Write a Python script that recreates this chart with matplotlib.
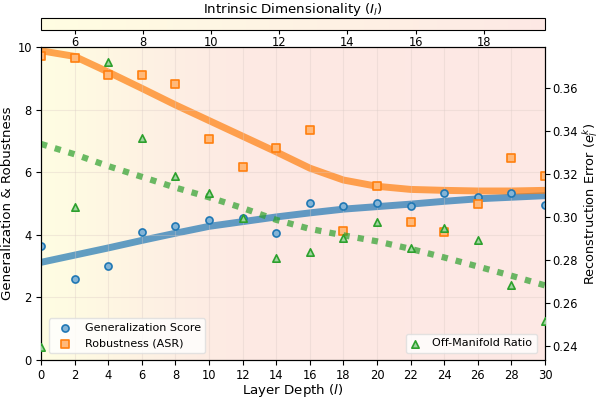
import numpy as np
import matplotlib
matplotlib.use("Agg")
import matplotlib.pyplot as plt
from matplotlib.colors import LinearSegmentedColormap, Normalize
from matplotlib.cm import ScalarMappable

# ---------------- data ----------------
layers = [0, 2, 4, 6, 8, 10, 12, 14, 16, 18, 20, 22, 24, 26, 28, 30]

gen_score = [3.65, 2.60, 3.00, 4.09, 4.28, 4.48, 4.54, 4.07, 5.01, 4.92, 5.03, 4.92, 5.33, 5.20, 5.33, 4.96]
robustness = [9.71, 9.66, 9.12, 9.12, 8.82, 7.05, 6.17, 6.76, 7.35, 4.12, 5.56, 4.41, 4.09, 4.98, 6.45, 5.88]
off_manifold = [0.2394, 0.3045, 0.3720, 0.3368, 0.3189, 0.3110, 0.2994, 0.2808, 0.2836, 0.2900,
                0.2975, 0.2854, 0.2947, 0.2892, 0.2682, 0.2514]

gen_trend = [3.12, 3.35, 3.58, 3.82, 4.05, 4.27, 4.42, 4.57, 4.70, 4.82, 4.90, 4.98, 5.07, 5.15, 5.20, 5.25]
rob_trend = [9.88, 9.70, 9.20, 8.68, 8.15, 7.65, 7.15, 6.65, 6.13, 5.75, 5.55, 5.45, 5.42, 5.40, 5.40, 5.42]
off_trend = [0.3338, 0.3290, 0.3235, 0.3185, 0.3135, 0.3090, 0.3040, 0.2985, 0.2943, 0.2913,
             0.2885, 0.2850, 0.2810, 0.2768, 0.2725, 0.2680]

intrinsic_dim = [5.0, 6.8, 9.5, 12.5, 15.0, 17.0, 18.3, 19.0, 19.4, 19.6, 19.7, 19.75, 19.8, 19.8, 19.8, 19.8]

x_ticks = list(range(0, 31, 2))
y_left_ticks = [0, 2, 4, 6, 8, 10]
y_right_ticks = [0.24, 0.26, 0.28, 0.30, 0.32, 0.34, 0.36]
cbar_ticks = [6, 8, 10, 12, 14, 16, 18]

# ---------------- styling ----------------
blue = "#1f77b4"
orange = "#ff7f0e"
green = "#2ca02c"

def lighten(c, f):
    rgb = np.array(matplotlib.colors.to_rgb(c))
    return tuple(rgb + (1 - rgb) * f)

cmap = LinearSegmentedColormap.from_list("idmap", ["#fffde2", "#fde8e4"])

fig = plt.figure(figsize=(6.0, 3.98), dpi=100)
ax1 = fig.add_axes([41 / 600, 38 / 398, 504 / 600, 313 / 398])
ax2 = ax1.twinx()

# background showing intrinsic dimensionality per layer
norm = Normalize(vmin=min(intrinsic_dim), vmax=max(intrinsic_dim))
ax1.imshow(np.array(intrinsic_dim)[np.newaxis, :], cmap=cmap, norm=norm, aspect="auto",
           extent=[-1, 31, 0, 10], interpolation="bilinear", zorder=0)

ax1.grid(True, color="#d9c9c4", alpha=0.35, linewidth=0.8, zorder=1)
ax1.set_axisbelow(False)

# trend lines
ax1.plot(layers, gen_trend, color=blue, lw=5, alpha=0.7, solid_capstyle="butt", zorder=2)
ax1.plot(layers, rob_trend, color=orange, lw=5, alpha=0.7, solid_capstyle="butt", zorder=2)
ax2.plot(layers, off_trend, color=green, lw=4.5, alpha=0.7, linestyle=(0, (1.0, 1.3)),
         dash_capstyle="butt", zorder=2)

# scatter points
sc_gen = ax1.scatter(layers, gen_score, s=26, marker="o", facecolors=[lighten(blue, 0.45)],
                     edgecolors=blue, linewidths=1.2, zorder=3, label="Generalization Score")
sc_rob = ax1.scatter(layers, robustness, s=26, marker="s", facecolors=[lighten(orange, 0.45)],
                     edgecolors=orange, linewidths=1.2, zorder=3, label="Robustness (ASR)")
sc_off = ax2.scatter(layers, off_manifold, s=28, marker="^", facecolors=[lighten(green, 0.55)],
                     edgecolors=green, linewidths=1.2, zorder=3, label="Off-Manifold Ratio")

ax1.set_xlim(0, 30)
ax1.set_ylim(0, 10)
ax2.set_ylim(0.2333, 0.3789)
ax1.set_xticks(x_ticks)
ax1.set_yticks(y_left_ticks)
ax2.set_yticks(y_right_ticks)
ax2.set_yticklabels([f"{v:.2f}" for v in y_right_ticks])

ax1.tick_params(labelsize=8.3, pad=3)
ax2.tick_params(labelsize=8.3, pad=2)
ax1.set_xlabel("Layer Depth ($l$)", fontsize=9.6, labelpad=0)
ax1.set_ylabel("Generalization & Robustness", fontsize=9.6, labelpad=2.5)
ax2.set_ylabel("Reconstruction Error ($e_l^k$)", fontsize=9.3, labelpad=1.5)

leg1 = ax2.legend(handles=[sc_gen, sc_rob], loc="lower left", fontsize=8,
                  frameon=True, framealpha=0.8, edgecolor="#dddddd",
                  bbox_to_anchor=(0.005, 0.005))
ax2.add_artist(leg1)
ax2.legend(handles=[sc_off], loc="lower right", fontsize=8, frameon=True,
           framealpha=0.8, edgecolor="#dddddd", bbox_to_anchor=(0.995, 0.005),
           handlelength=0.8, handletextpad=1.2)

# colorbar on top
cax = fig.add_axes([41 / 600, 368 / 398, 504 / 600, 12 / 398])
cb = fig.colorbar(ScalarMappable(norm=norm, cmap=cmap), cax=cax, orientation="horizontal")
cb.set_ticks(cbar_ticks)
cax.tick_params(labelsize=8.3, pad=1.5, length=3)
cax.set_title("Intrinsic Dimensionality ($I_l$)", fontsize=9.6, pad=2)

fig.savefig("out.png", dpi=100)
